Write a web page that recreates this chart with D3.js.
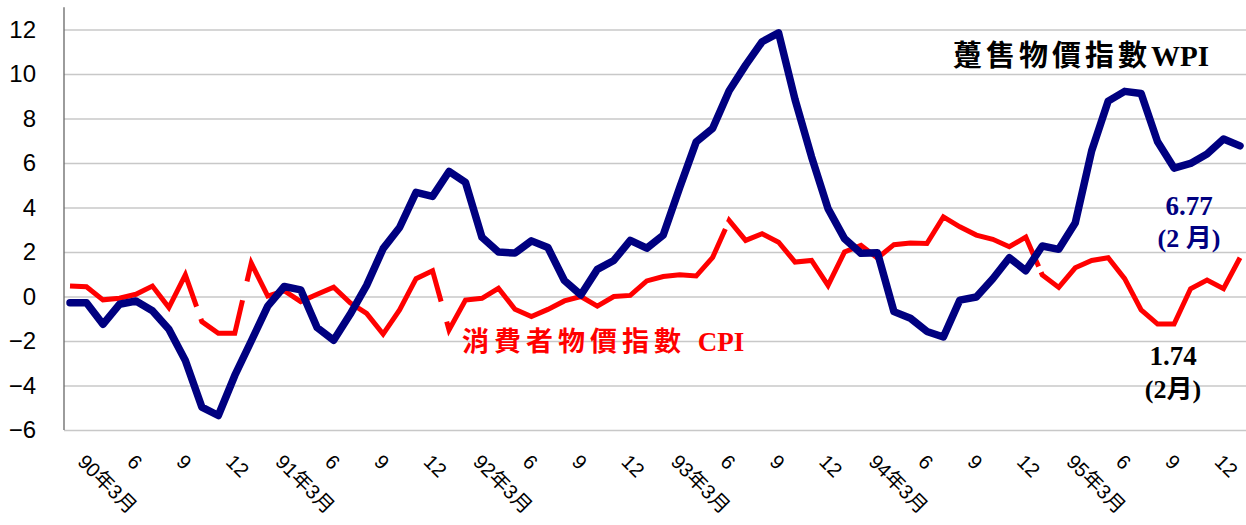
<!DOCTYPE html>
<html>
<head>
<meta charset="utf-8">
<script src="https://cdn.jsdelivr.net/npm/d3@7"></script>
<style>
  body { margin: 0; background: #fff; }
  svg { display: block; }
</style>
</head>
<body>
<svg id="chart"></svg>
<script>
// months from 90年3月 to 96年2月
var months = []
for (var yr = 90; yr <= 96; yr++) {
    for (var m = 1; m <= 12; m++) {
        if ((yr == 90 && m < 3) || (yr == 96 && m > 2)) continue
        months.push(yr + "/" + m)
    }
}

var tickLabels = ["90年3月", "6", "9", "12", "91年3月", "6", "9", "12",
    "92年3月", "6", "9", "12", "93年3月", "6", "9", "12",
    "94年3月", "6", "9", "12", "95年3月", "6", "9", "12"]

var yTicks = [-6, -4, -2, 0, 2, 4, 6, 8, 10, 12]

// 躉售物價指數 WPI (年增率 %)
var wpi = [-0.28, -0.28, -1.25, -0.35, -0.2, -0.64, -1.47, -2.88, -4.97, -5.35, -3.55, -2.0,
    -0.43, 0.45, 0.3, -1.4, -1.97, -0.8, 0.5, 2.15, 3.1, 4.68, 4.5, 5.62,
    5.13, 2.66, 2.0, 1.95, 2.5, 2.2, 0.72, 0.07, 1.22, 1.62, 2.52, 2.17,
    2.76, 4.9, 6.95, 7.56, 9.25, 10.4, 11.45, 11.85, 8.85, 6.28, 3.95, 2.6,
    1.94, 1.97, -0.68, -0.98, -1.57, -1.82, -0.16, -0.02, 0.8, 1.74, 1.16, 2.27,
    2.12, 3.3, 6.55, 8.78, 9.22, 9.12, 6.95, 5.77, 5.98, 6.4, 7.08, 6.77]

// 消費者物價指數 CPI (年增率 %)
var cpi = [0.47, 0.44, -0.15, -0.08, 0.1, 0.47, -0.5, 0.97, -1.13, -1.65, -1.65, 1.5,
    0.02, 0.26, -0.23, 0.1, 0.42, -0.28, -0.76, -1.69, -0.6, 0.8, 1.16, -1.5,
    -0.16, -0.08, 0.37, -0.57, -0.9, -0.58, -0.2, 0.0, -0.43, 0.0, 0.05, 0.7,
    0.9, 0.98, 0.92, 1.76, 3.42, 2.52, 2.82, 2.44, 1.55, 1.62, 0.5, 2.0,
    2.3, 1.73, 2.33, 2.4, 2.38, 3.58, 3.13, 2.76, 2.57, 2.24, 2.67, 0.97,
    0.41, 1.29, 1.62, 1.74, 0.8, -0.6, -1.24, -1.24, 0.35, 0.74, 0.35, 1.74]

// breaks seen in the red line: [segment start index, from fraction, to fraction]
var cpiBreaks = [[7, 0.68, 0.94], [10, 0.47, 0.74], [22, 0.52, 0.86], [39, 0.77, 0.95], [58, 0.78, 0.93]]

var dimensions = {
    width: 1246,
    height: 525,
    margin: { top: 7, bottom: 95, right: 0, left: 64 }
}

var svg = d3.select("#chart")
    .attr("width", dimensions.width)
    .attr("height", dimensions.height)

var xScale = d3.scalePoint()
    .domain(months)
    .range([70, 1240])

var yScale = d3.scaleLinear()
    .domain([-6, 13])
    .range([430, 7.25])

// grid + y labels
var yAxisGen = d3.axisLeft(yScale)
    .tickValues(yTicks)
    .tickSizeInner(-(dimensions.width - dimensions.margin.left))
    .tickSizeOuter(0)
    .tickPadding(28)

var yAxis = svg.append("g")
    .attr("transform", `translate(${dimensions.margin.left},0)`)
    .call(yAxisGen)
yAxis.select(".domain").remove()
yAxis.selectAll("line").attr("stroke", "#c8c8c8").attr("stroke-width", 1.3)
yAxis.selectAll("text")
    .attr("font-family", "'Liberation Sans', Arial, sans-serif")
    .attr("font-size", 24)
    .attr("fill", "#000")

svg.append("line")
    .attr("x1", dimensions.margin.left).attr("x2", dimensions.margin.left)
    .attr("y1", yScale(13)).attr("y2", yScale(-6))
    .attr("stroke", "#666")
    .attr("stroke-width", 1.3)

// x labels
var xAxisGen = d3.axisBottom(xScale)
    .tickValues(months.filter((d, i) => i % 3 == 0))
    .tickFormat((d, i) => tickLabels[i])
    .tickSize(0)

var xAxis = svg.append("g")
    .attr("transform", `translate(0,${yScale(-6)})`)
    .call(xAxisGen)
xAxis.select(".domain").remove()
xAxis.selectAll("text")
    .attr("x", null).attr("y", null).attr("dy", null)
    .attr("text-anchor", "start")
    .attr("transform", "translate(6,33) rotate(45)")
    .attr("font-family", "'Liberation Sans', 'Noto Sans CJK TC', sans-serif")
    .attr("font-size", 20)
    .attr("fill", "#000")

var line = d3.line()
    .x((d, i) => xScale(months[i]))
    .y(d => yScale(d))

// CPI line with its small breaks
var cpiPts = cpi.map((d, i) => [xScale(months[i]), yScale(d)])
var cum = [0]
for (var i = 1; i < cpiPts.length; i++) {
    var dx = cpiPts[i][0] - cpiPts[i - 1][0], dy = cpiPts[i][1] - cpiPts[i - 1][1]
    cum.push(cum[i - 1] + Math.sqrt(dx * dx + dy * dy))
}
var dash = [], pos = 0
cpiBreaks.forEach(function (b) {
    var segLen = cum[b[0] + 1] - cum[b[0]]
    var g0 = cum[b[0]] + segLen * b[1], g1 = cum[b[0]] + segLen * b[2]
    dash.push(g0 - pos, g1 - g0)
    pos = g1
})
dash.push(cum[cum.length - 1] - pos + 10, 0)

svg.append("path")
    .datum(cpi)
    .attr("d", line)
    .attr("fill", "none")
    .attr("stroke", "#ff0000")
    .attr("stroke-width", 5)
    .attr("stroke-linejoin", "miter")
    .attr("stroke-dasharray", dash.join(","))

svg.append("path")
    .datum(wpi)
    .attr("d", line)
    .attr("fill", "none")
    .attr("stroke", "#000080")
    .attr("stroke-width", 7.5)
    .attr("stroke-linejoin", "round")
    .attr("stroke-linecap", "round")

// annotations
var serif = "'Liberation Serif', 'Noto Sans CJK TC', serif"

var wpiTitle = svg.append("text")
    .attr("x", 953).attr("y", 66)
    .attr("font-family", serif)
    .attr("font-weight", "bold")
    .attr("font-size", 29)
    .attr("fill", "#000")
wpiTitle.append("tspan").attr("letter-spacing", 4).text("躉售物價指數")
wpiTitle.append("tspan").text("WPI")

var cpiTitle = svg.append("text")
    .attr("x", 462).attr("y", 351)
    .attr("font-family", serif)
    .attr("font-weight", "bold")
    .attr("font-size", 27)
    .attr("fill", "#ff0000")
cpiTitle.append("tspan").attr("letter-spacing", 5).text("消費者物價指數 ")
cpiTitle.append("tspan").text("CPI")

svg.append("text")
    .attr("x", 1189).attr("y", 215)
    .attr("text-anchor", "middle")
    .attr("font-family", serif)
    .attr("font-weight", "bold")
    .attr("font-size", 27)
    .attr("fill", "#000080")
    .text("6.77")

svg.append("text")
    .attr("x", 1189).attr("y", 247)
    .attr("text-anchor", "middle")
    .attr("font-family", serif)
    .attr("font-weight", "bold")
    .attr("font-size", 26)
    .attr("fill", "#000080")
    .text("(2 月)")

svg.append("text")
    .attr("x", 1173).attr("y", 365)
    .attr("text-anchor", "middle")
    .attr("font-family", serif)
    .attr("font-weight", "bold")
    .attr("font-size", 27)
    .attr("fill", "#000")
    .text("1.74")

svg.append("text")
    .attr("x", 1173).attr("y", 398)
    .attr("text-anchor", "middle")
    .attr("font-family", serif)
    .attr("font-weight", "bold")
    .attr("font-size", 26)
    .attr("fill", "#000")
    .text("(2月)")
</script>
</body>
</html>
